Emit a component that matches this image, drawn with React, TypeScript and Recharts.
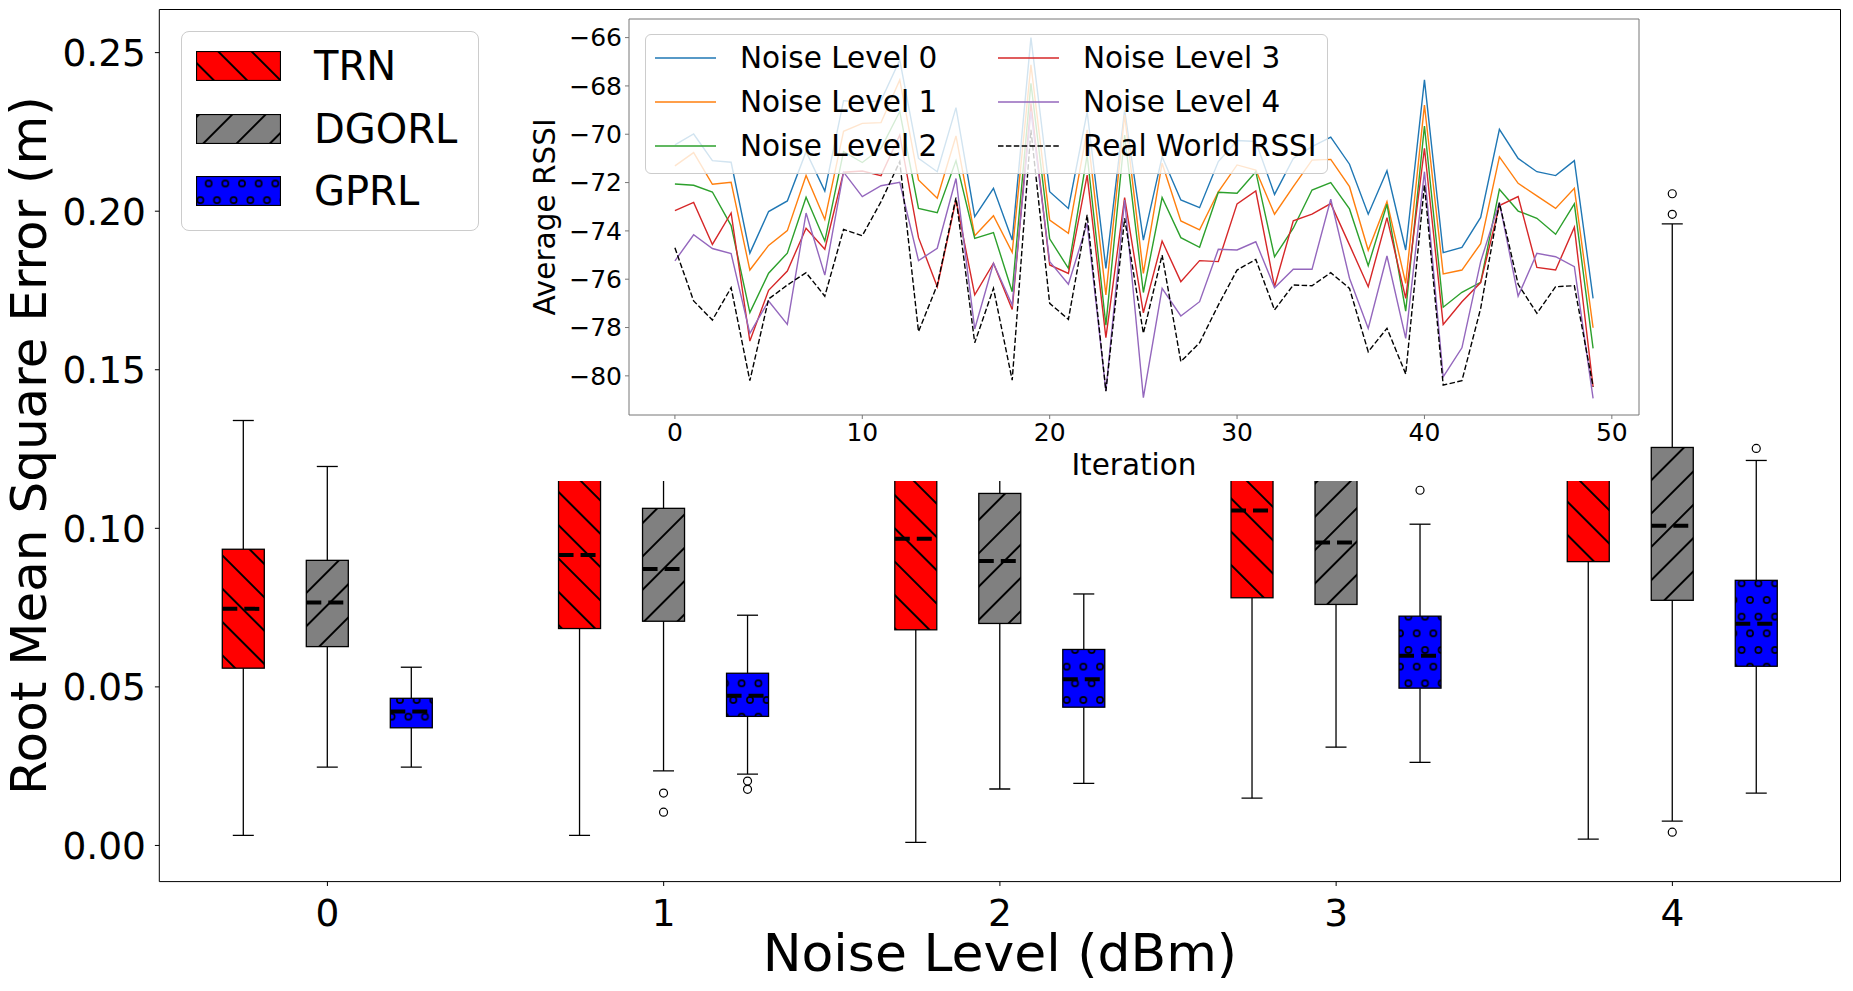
import { ComposedChart, Bar, XAxis, YAxis, LineChart, Line } from 'recharts';

const noiseLevels = ['0', '1', '2', '3', '4'];

// box stats per noise level: [min, q1, median, q3, max]
const trnBoxes = [
  [0.0032, 0.0559, 0.0746, 0.0934, 0.134],
  [0.0032, 0.0684, 0.0916, 0.128, 0.22],
  [0.001, 0.068, 0.0967, 0.132, 0.23],
  [0.0149, 0.0781, 0.1056, 0.14, 0.235],
  [0.002, 0.0895, 0.125, 0.16, 0.25],
];
const dgorlBoxes = [
  [0.0247, 0.0627, 0.0766, 0.0899, 0.1195],
  [0.0235, 0.0707, 0.0872, 0.1063, 0.16],
  [0.0178, 0.07, 0.0897, 0.111, 0.165],
  [0.031, 0.076, 0.0955, 0.118, 0.17],
  [0.0077, 0.0773, 0.1008, 0.1255, 0.196],
];
const gprlBoxes = [
  [0.0247, 0.0371, 0.0422, 0.0464, 0.0562],
  [0.0225, 0.0407, 0.0472, 0.0543, 0.0726],
  [0.0196, 0.0436, 0.0524, 0.0618, 0.0793],
  [0.0262, 0.0496, 0.0598, 0.0723, 0.1013],
  [0.0165, 0.0565, 0.0699, 0.0836, 0.1214],
];
const trnOutliers: number[][] = [[], [], [], [], []];
const dgorlOutliers: number[][] = [[], [0.0165, 0.0105], [], [], [0.0042, 0.199, 0.2055]];
const gprlOutliers: number[][] = [[], [0.0203, 0.0177], [], [0.112], [0.1252]];

const rmseTicks = [0, 0.05, 0.1, 0.15, 0.2, 0.25];

// inset: average RSSI per iteration
const noise0 = [
  -70.44, -69.99, -71.09, -71.16, -74.92, -73.2, -72.76, -70.72, -72.35, -68.61, -68.68, -68.61, -66.93,
  -71.0, -71.55, -68.9, -73.41, -72.24, -74.38, -66.0, -72.38, -73.07, -69.07, -75.55, -69.0, -74.38, -70.93,
  -72.72, -73.04, -71.13, -70.26, -70.3, -72.49, -71.0, -70.51, -70.12, -71.24, -73.31, -71.51, -74.79, -67.75,
  -74.9, -74.68, -73.44, -69.8, -71.0, -71.55, -71.71, -71.09, -76.79,
];
const noise1 = [
  -71.31, -70.76, -72.07, -71.99, -75.62, -74.6, -73.99, -71.71, -73.53, -69.88, -69.55, -69.52, -67.75,
  -71.89, -72.65, -70.07, -74.2, -73.37, -74.89, -67.13, -73.55, -74.1, -69.82, -76.65, -69.2, -75.76, -71.2,
  -73.59, -73.96, -72.38, -71.27, -71.48, -73.31, -72.17, -71.07, -71.04, -72.17, -74.8, -72.79, -76.17, -68.79,
  -75.78, -75.62, -74.53, -70.94, -72.03, -72.55, -73.07, -72.24, -78.01,
];
const noise2 = [
  -72.06, -72.11, -72.39, -73.78, -77.38, -75.75, -74.92, -72.61, -74.42, -70.72, -71.17, -70.58, -69.06,
  -73.07, -73.25, -71.09, -74.31, -74.07, -76.52, -67.89, -74.33, -75.55, -70.86, -77.9, -70.03, -76.55, -72.62,
  -74.28, -74.68, -72.4, -72.44, -71.55, -75.07, -73.89, -72.31, -72.0, -73.09, -75.44, -72.9, -77.32, -69.66,
  -77.16, -76.54, -76.13, -72.28, -73.18, -73.48, -74.14, -72.88, -78.86,
];
const noise3 = [
  -73.16, -72.82, -74.56, -73.26, -78.56, -76.46, -75.66, -73.89, -74.76, -71.57, -71.52, -71.71, -70.03,
  -74.28, -76.31, -72.72, -76.65, -75.34, -77.25, -68.72, -75.41, -75.76, -71.69, -78.42, -72.62, -77.39, -74.42,
  -76.1, -75.23, -75.27, -72.88, -72.35, -76.31, -73.58, -73.31, -72.87, -74.58, -76.31, -73.45, -76.79, -70.58,
  -77.87, -76.93, -76.14, -72.95, -72.58, -75.51, -75.62, -73.85, -80.45,
];
const noise4 = [
  -75.24, -74.16, -74.73, -74.94, -78.24, -76.9, -77.87, -73.26, -75.83, -71.57, -72.58, -72.13, -71.99,
  -75.23, -74.72, -71.83, -78.06, -75.34, -77.07, -69.06, -75.27, -76.21, -73.69, -80.62, -72.72, -80.9, -76.38,
  -77.52, -76.93, -74.76, -74.79, -74.45, -76.35, -75.59, -75.59, -72.69, -75.96, -78.04, -75.04, -78.45, -71.55,
  -80.04, -78.84, -75.27, -72.82, -76.7, -74.93, -75.07, -75.48, -80.93,
];
const realWorld = [
  -74.7, -76.9, -77.69, -76.35, -80.2, -76.82, -76.24, -75.73, -76.7, -73.94, -74.2, -72.79, -71.13,
  -78.17, -76.24, -72.62, -78.63, -76.38, -80.18, -69.82, -77.0, -77.66, -73.34, -80.63, -73.48, -78.24, -75.0,
  -79.41, -78.63, -77.07, -75.62, -75.18, -77.27, -76.24, -76.27, -75.73, -76.38, -79.0, -78.03, -79.92, -72.1,
  -80.38, -80.2, -77.21, -72.84, -76.21, -77.41, -76.31, -76.27, -80.45,
];
const rssiTicks = [-80, -78, -76, -74, -72, -70, -68, -66];
const iterTicks = [0, 10, 20, 30, 40, 50];

const methods = [
  { key: 'TRN', boxes: trnBoxes, outliers: trnOutliers, color: '#ff0000', hatch: 'hatchBack' },
  { key: 'DGORL', boxes: dgorlBoxes, outliers: dgorlOutliers, color: '#808080', hatch: 'hatchFwd' },
  { key: 'GPRL', boxes: gprlBoxes, outliers: gprlOutliers, color: '#0000ff', hatch: 'hatchCircle' },
];

const series = [
  { key: 'n0', name: 'Noise Level 0', values: noise0, color: '#1f77b4', dash: undefined },
  { key: 'n1', name: 'Noise Level 1', values: noise1, color: '#ff7f0e', dash: undefined },
  { key: 'n2', name: 'Noise Level 2', values: noise2, color: '#2ca02c', dash: undefined },
  { key: 'n3', name: 'Noise Level 3', values: noise3, color: '#d62728', dash: undefined },
  { key: 'n4', name: 'Noise Level 4', values: noise4, color: '#9467bd', dash: undefined },
  { key: 'rw', name: 'Real World RSSI', values: realWorld, color: '#000000', dash: '5.5 2.4' },
];

const boxRows = noiseLevels.map((level, i) => {
  const row: any = { level };
  methods.forEach((m) => {
    row[m.key] = m.boxes[i];
    row[m.key + '_out'] = m.outliers[i];
  });
  return row;
});

const rssiRows = noise0.map((_, i) => {
  const row: any = { it: i };
  series.forEach((s) => {
    row[s.key] = s.values[i];
  });
  return row;
});

const FONT = "'DejaVu Sans', sans-serif";

function HatchDefs() {
  const h = 23.55;
  return (
    <svg width={0} height={0} style={{ position: 'absolute' }}>
      <defs>
        <pattern id="hatchBack" patternUnits="userSpaceOnUse" width={h} height={h} patternTransform="rotate(45)">
          <line x1={0} y1={0} x2={h} y2={0} stroke="#000" strokeWidth={2} />
          <line x1={0} y1={h} x2={h} y2={h} stroke="#000" strokeWidth={2} />
        </pattern>
        <pattern id="hatchFwd" patternUnits="userSpaceOnUse" width={h} height={h} patternTransform="rotate(-45)">
          <line x1={0} y1={0} x2={h} y2={0} stroke="#000" strokeWidth={2} />
          <line x1={0} y1={h} x2={h} y2={h} stroke="#000" strokeWidth={2} />
        </pattern>
        <pattern id="hatchCircle" patternUnits="userSpaceOnUse" width={16.667} height={33.333}>
          {[
            [0, 0], [16.667, 0], [0, 33.333], [16.667, 33.333], [8.333, 16.667],
          ].map(([cx, cy], k) => (
            <circle key={k} cx={cx} cy={cy} r={3.1} fill="none" stroke="#000" strokeWidth={1.6} />
          ))}
        </pattern>
      </defs>
    </svg>
  );
}

function BoxGlyph(props: any) {
  const { x, y, width, height, payload, method } = props;
  const m = methods.find((mm) => mm.key === method)!;
  const [lo, q1, med, q3, hi] = payload[method];
  const outs: number[] = payload[method + '_out'];
  const top = Math.min(y, y + height);
  const bot = Math.max(y, y + height);
  const py = (v: number) => bot - ((v - lo) / (hi - lo)) * (bot - top);
  const cx = x + width / 2;
  const cap = width / 4;
  const yq1 = py(q1);
  const yq3 = py(q3);
  const ymed = py(med);
  const line = { stroke: '#000', strokeWidth: 1.3 };
  return (
    <g>
      <line x1={cx} x2={cx} y1={py(hi)} y2={yq3} {...line} />
      <line x1={cx} x2={cx} y1={yq1} y2={py(lo)} {...line} />
      <line x1={cx - cap} x2={cx + cap} y1={py(hi)} y2={py(hi)} {...line} />
      <line x1={cx - cap} x2={cx + cap} y1={py(lo)} y2={py(lo)} {...line} />
      <rect x={x} y={yq3} width={width} height={yq1 - yq3} fill={m.color} />
      <rect x={x} y={yq3} width={width} height={yq1 - yq3} fill={`url(#${m.hatch})`} />
      <rect x={x} y={yq3} width={width} height={yq1 - yq3} fill="none" {...line} />
      <line x1={x} x2={x + width} y1={ymed} y2={ymed} stroke="#000" strokeWidth={4} strokeDasharray="15 7" />
      {outs.map((v, k) => (
        <circle key={k} cx={cx} cy={py(v)} r={4} fill="none" stroke="#000" strokeWidth={1.2} />
      ))}
    </g>
  );
}

function MainLegend() {
  return (
    <div
      style={{
        position: 'absolute', left: 181, top: 31, width: 298, height: 200, boxSizing: 'border-box',
        border: '1px solid #cccccc', borderRadius: 8, background: 'rgba(255,255,255,0.8)',
      }}
    >
      {methods.map((m, i) => (
        <div
          key={m.key}
          style={{ position: 'absolute', left: 14, top: 19 + i * 62.5, height: 30, display: 'flex', alignItems: 'center' }}
        >
          <svg width={85} height={30} style={{ display: 'block' }}>
            <g transform="translate(-4, 7.5)">
              <rect x={4.5} y={-7} width={84} height={29} fill={m.color} />
              <rect x={4.5} y={-7} width={84} height={29} fill={`url(#${m.hatch})`} />
              <rect x={4.5} y={-7} width={84} height={29} fill="none" stroke="#000" strokeWidth={1.2} />
            </g>
          </svg>
          <span style={{ marginLeft: 33, fontSize: 40, lineHeight: '30px', color: '#000' }}>{m.key}</span>
        </div>
      ))}
    </div>
  );
}

function InsetLegend() {
  return (
    <div
      style={{
        position: 'absolute', left: 645, top: 34, width: 683, height: 140, boxSizing: 'border-box',
        border: '1px solid #cccccc', borderRadius: 6, background: 'rgba(255,255,255,0.8)',
      }}
    >
      {series.map((s, i) => {
        const col = Math.floor(i / 3);
        const row = i % 3;
        return (
          <div
            key={s.key}
            style={{
              position: 'absolute', left: col === 0 ? 9 : 352, top: 23 + row * 43.8 - 15, height: 30,
              display: 'flex', alignItems: 'center',
            }}
          >
            <svg width={61} height={30} style={{ display: 'block' }}>
              <line x1={0} x2={61} y1={15} y2={15} stroke={s.color} strokeWidth={1.4} strokeDasharray={s.dash} />
            </svg>
            <span style={{ marginLeft: 24, fontSize: 29.5, lineHeight: '30px', color: '#000', whiteSpace: 'nowrap' }}>
              {s.name}
            </span>
          </div>
        );
      })}
    </div>
  );
}

export default function App() {
  return (
    <div style={{ position: 'absolute', left: 0, top: 0, width: 1853, height: 991, background: '#fff', fontFamily: FONT }}>
      <HatchDefs />
      <ComposedChart
        width={1853}
        height={991}
        data={boxRows}
        margin={{ top: 8.5, right: 11.5, bottom: 0, left: 9.3 }}
        barSize={42}
        barGap={42}
      >
        <XAxis
          dataKey="level"
          height={109.4}
          tick={{ fontSize: 37.5, fill: '#000' }}
          tickSize={4.4}
          tickMargin={13}
          tickLine={{ stroke: '#000' }}
          axisLine={{ stroke: '#000', strokeWidth: 1 }}
          label={{ value: 'Noise Level (dBm)', position: 'insideBottom', offset: 20, fontSize: 52, fill: '#000' }}
        />
        <XAxis xAxisId="top" dataKey="level" orientation="top" height={1} tick={false} tickLine={false} axisLine={{ stroke: '#000', strokeWidth: 1 }} />
        <YAxis
          type="number"
          domain={[-0.0114, 0.2636]}
          allowDataOverflow
          ticks={rmseTicks}
          tickFormatter={(v: number) => v.toFixed(2)}
          width={150}
          tick={{ fontSize: 37.5, fill: '#000' }}
          tickSize={4.4}
          tickMargin={9}
          tickLine={{ stroke: '#000' }}
          axisLine={{ stroke: '#000', strokeWidth: 1 }}
          label={{
            value: 'Root Mean Square Error (m)', angle: -90, position: 'insideLeft', offset: 19,
            fontSize: 50, fill: '#000', style: { textAnchor: 'middle' },
          }}
        />
        <YAxis yAxisId="right" orientation="right" width={1} domain={[0, 1]} tick={false} tickLine={false} axisLine={{ stroke: '#000', strokeWidth: 1 }} />
        {methods.map((m) => (
          <Bar
            key={m.key}
            dataKey={(r: any) => [r[m.key][0], r[m.key][4]]}
            shape={(p: any) => <BoxGlyph {...p} method={m.key} />}
            isAnimationActive={false}
          />
        ))}
      </ComposedChart>

      <MainLegend />

      <div style={{ position: 'absolute', left: 520, top: 12, width: 1126, height: 469, background: '#fff' }}>
        <LineChart width={1126} height={469} data={rssiRows} margin={{ top: 6, right: 6, bottom: 4, left: 9 }}>
          <XAxis
            dataKey="it"
            type="number"
            domain={[-2.45, 51.45]}
            allowDataOverflow
            ticks={iterTicks}
            height={62}
            tick={{ fontSize: 25, fill: '#000' }}
            tickSize={4}
            tickMargin={4}
            tickLine={{ stroke: '#777' }}
            axisLine={{ stroke: '#777', strokeWidth: 1 }}
            label={{ value: 'Iteration', position: 'insideBottom', offset: 2, fontSize: 29.5, fill: '#000' }}
          />
          <XAxis xAxisId="top" dataKey="it" type="number" domain={[-2.45, 51.45]} orientation="top" height={1} tick={false} tickLine={false} axisLine={{ stroke: '#777', strokeWidth: 1 }} />
          <YAxis
            type="number"
            domain={[-81.62, -65.23]}
            allowDataOverflow
            ticks={rssiTicks}
            tickFormatter={(v: number) => (v < 0 ? '\u2212' + Math.abs(v) : String(v))}
            width={100}
            tick={{ fontSize: 25, fill: '#000' }}
            tickSize={4}
            tickMargin={3}
            tickLine={{ stroke: '#777' }}
            axisLine={{ stroke: '#777', strokeWidth: 1 }}
            label={{
              value: 'Average RSSI', angle: -90, position: 'insideLeft', offset: 16,
              fontSize: 29.5, fill: '#000', style: { textAnchor: 'middle' },
            }}
          />
          <YAxis yAxisId="right" orientation="right" width={1} domain={[0, 1]} tick={false} tickLine={false} axisLine={{ stroke: '#777', strokeWidth: 1 }} />
          {series.map((s) => (
            <Line
              key={s.key}
              type="linear"
              dataKey={s.key}
              stroke={s.color}
              strokeWidth={1.4}
              strokeDasharray={s.dash}
              dot={false}
              activeDot={false}
              isAnimationActive={false}
            />
          ))}
        </LineChart>
      </div>

      <InsetLegend />
    </div>
  );
}
